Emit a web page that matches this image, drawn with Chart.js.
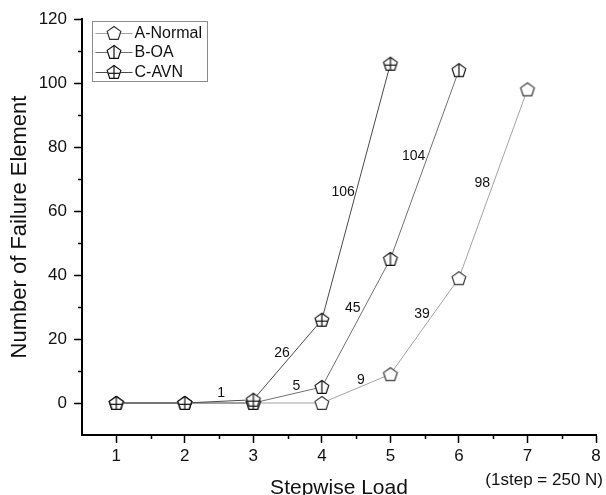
<!DOCTYPE html>
<html><head><meta charset="utf-8">
<style>html,body{margin:0;padding:0;background:#fff;overflow:hidden}#wrap{width:606px;height:495px;position:relative}</style>
<script src="https://cdn.jsdelivr.net/npm/chart.js@4.4.1/dist/chart.umd.min.js"></script>
</head><body><div id="wrap"><canvas id="c" width="606" height="495"></canvas></div>
<script>
// ---- data ----
const steps = [1, 2, 3, 4, 5, 6, 7];
const seriesNames = ['A-Normal', 'B-OA', 'C-AVN'];
const normalValues = [0, 0, 0, 0, 9, 39, 98];
const oaValues = [0, 0, 0, 5, 45, 104];
const avnValues = [0, 0, 1, 26, 106];
const xTickValues = [1, 2, 3, 4, 5, 6, 7, 8];
const yTickValues = [0, 20, 40, 60, 80, 100, 120];
const xMinorTickValues = [1.5, 2.5, 3.5, 4.5, 5.5, 6.5, 7.5];
const yMinorTickValues = [10, 30, 50, 70, 90, 110];
const annotationText = ['1', '26', '106', '5', '45', '104', '9', '39', '98'];
const annotationX = [2.53, 3.42, 4.31, 3.63, 4.45, 5.34, 4.57, 5.46, 6.34];
const annotationY = [3.1, 15.6, 66, 5.3, 29.7, 77.2, 7.2, 27.8, 68.8];
const stepNote = '(1step = 250 N)';
const xTitle = 'Stepwise Load';
const yTitle = 'Number of Failure Element';

const FONT = "Arial, 'Liberation Sans', sans-serif";

function makeMarker(kind, stroke) {
  const r = 7.2, s = 18;
  const c = document.createElement('canvas');
  c.width = s; c.height = s;
  const g = c.getContext('2d');
  const cx = s / 2, cy = s / 2 + 0.6;
  const pts = [];
  for (let i = 0; i < 5; i++) {
    const a = -Math.PI / 2 + i * 2 * Math.PI / 5;
    pts.push([cx + r * Math.cos(a), cy + r * Math.sin(a)]);
  }
  g.beginPath();
  pts.forEach((p, i) => i ? g.lineTo(p[0], p[1]) : g.moveTo(p[0], p[1]));
  g.closePath();
  g.fillStyle = '#fff'; g.fill();
  g.strokeStyle = stroke; g.lineWidth = 1.2; g.stroke();
  if (kind >= 1) {
    g.beginPath(); g.moveTo(cx, pts[0][1]); g.lineTo(cx, pts[2][1]); g.stroke();
  }
  if (kind >= 2) {
    const hy = cy + 0.1 * r, hx = 0.82 * r;
    g.beginPath(); g.moveTo(cx - hx, hy); g.lineTo(cx + hx, hy); g.stroke();
  }
  return c;
}

const markers = [makeMarker(0, '#333'), makeMarker(1, '#111'), makeMarker(2, '#111')];
const lineColors = ['#a3a3a3', '#707070', '#4a4a4a'];
const seriesValues = [normalValues, oaValues, avnValues];
const drawOrder = [2, 1, 0];

const datasets = seriesNames.map((name, i) => ({
  label: name,
  data: seriesValues[i].map((v, j) => ({ x: steps[j], y: v })),
  borderColor: lineColors[i],
  borderWidth: 1,
  pointStyle: markers[i],
  pointRadius: 7,
  pointHoverRadius: 7,
  fill: false,
  tension: 0,
  order: drawOrder[i]
}));

const extrasPlugin = {
  id: 'extras',
  afterDatasetsDraw(chart) {
    const ctx = chart.ctx, xs = chart.scales.x, ys = chart.scales.y;
    ctx.save();
    ctx.fillStyle = '#111';
    ctx.font = '14px ' + FONT;
    ctx.textAlign = 'center';
    ctx.textBaseline = 'middle';
    annotationText.forEach((t, i) => {
      ctx.fillText(t, xs.getPixelForValue(annotationX[i]), ys.getPixelForValue(annotationY[i]));
    });
    ctx.restore();
  },
  afterDraw(chart) {
    const ctx = chart.ctx, xs = chart.scales.x, ys = chart.scales.y, a = chart.chartArea;
    ctx.save();
    // minor ticks
    ctx.strokeStyle = '#000';
    ctx.lineWidth = 1.5;
    ctx.beginPath();
    yMinorTickValues.forEach(v => {
      const y = Math.round(ys.getPixelForValue(v)) + 0.5;
      ctx.moveTo(a.left - 4, y); ctx.lineTo(a.left, y);
    });
    xMinorTickValues.forEach(v => {
      const x = Math.round(xs.getPixelForValue(v)) + 0.5;
      ctx.moveTo(x, a.bottom); ctx.lineTo(x, a.bottom + 4);
    });
    ctx.stroke();

    // step note
    ctx.fillStyle = '#111';
    ctx.font = '17px ' + FONT;
    ctx.textAlign = 'right';
    ctx.textBaseline = 'middle';
    ctx.fillText(stepNote, a.right + 7, a.bottom + 45);

    // legend
    const lx = a.left + 10.5, ly = a.top + 2.5, lw = 115, lh = 60;
    ctx.fillStyle = '#fff';
    ctx.fillRect(lx, ly, lw, lh);
    ctx.strokeStyle = '#8a8a8a';
    ctx.lineWidth = 1;
    ctx.strokeRect(lx, ly, lw, lh);
    const rowY = [11, 30.5, 50];
    ctx.font = '16px ' + FONT;
    ctx.textAlign = 'left';
    ctx.textBaseline = 'middle';
    seriesNames.forEach((name, i) => {
      const y = Math.round(ly + rowY[i]);
      ctx.strokeStyle = lineColors[i];
      ctx.beginPath();
      ctx.moveTo(lx + 3, y + 0.5); ctx.lineTo(lx + 40, y + 0.5);
      ctx.stroke();
      ctx.drawImage(markers[i], Math.round(lx + 21.5 - 9), y - 9);
      ctx.fillStyle = '#111';
      ctx.fillText(name, lx + 42, y + 1);
    });
    ctx.restore();
  }
};

new Chart(document.getElementById('c'), {
  type: 'line',
  data: { datasets },
  options: {
    responsive: false,
    animation: false,
    events: [],
    layout: { padding: { top: 19, right: 10, left: 0, bottom: 0 } },
    plugins: { legend: { display: false }, tooltip: { enabled: false } },
    scales: {
      x: {
        type: 'linear',
        min: 0.5, max: 8,
        afterBuildTicks: s => { s.ticks = xTickValues.map(v => ({ value: v })); },
        afterFit: s => { s.height = 60; },
        grid: { display: true, drawOnChartArea: false, drawTicks: true, tickLength: 8, tickColor: '#000', tickWidth: 1.5 },
        border: { display: true, color: '#000', width: 2 },
        ticks: { color: '#111', font: { size: 17, family: FONT }, padding: 3, maxRotation: 0, autoSkip: false },
        title: { display: true, text: xTitle, color: '#111', font: { size: 21, family: FONT }, padding: { top: 0, bottom: -6 } }
      },
      y: {
        type: 'linear',
        min: -10, max: 120,
        afterBuildTicks: s => { s.ticks = yTickValues.map(v => ({ value: v })); },
        afterFit: s => { s.width = 82; },
        grid: { display: true, drawOnChartArea: false, drawTicks: true, tickLength: 8, tickColor: '#000', tickWidth: 1.5 },
        border: { display: true, color: '#000', width: 2 },
        ticks: { color: '#111', font: { size: 17, family: FONT }, padding: 7, autoSkip: false },
        title: { display: true, text: yTitle, color: '#111', font: { size: 22, family: FONT }, padding: { top: 7, bottom: 0 } }
      }
    }
  },
  plugins: [extrasPlugin]
});
</script>
</body></html>
